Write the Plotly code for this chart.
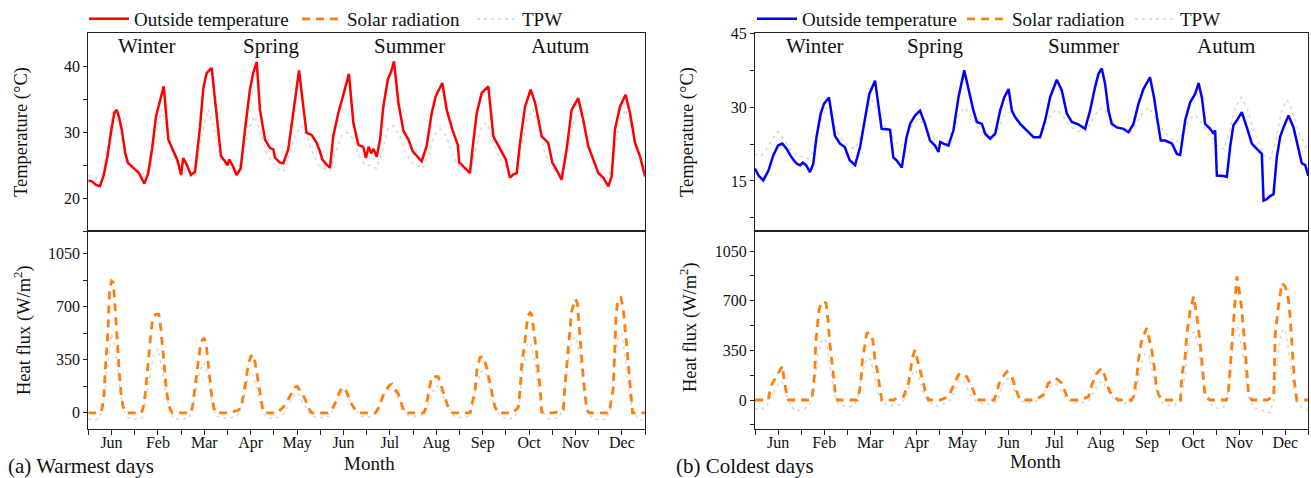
import plotly.graph_objects as go

# ---------------- data (hour of the 12 representative days, 24 h per month) -------------
month_labels = ["Jun", "Feb", "Mar", "Apr", "May", "Jun", "Jul", "Aug", "Sep", "Oct", "Nov", "Dec"]
season_labels = ["Winter", "Spring", "Summer", "Autum"]
season_hour_a = [30, 95, 166, 244]
season_hour_b = [31, 94, 171, 245]

# (a) Warmest days - outside temperature
a_temp_h = [0, 2, 4, 6, 8, 10, 12, 13.5, 14.7, 16, 17.3, 19, 20.4, 22.4,
            24, 26, 28, 29, 31, 33, 35, 37, 39, 41.4, 44, 46.3,
            48, 49.1, 50.9, 53.1, 55.2, 57.8, 59.5, 61.2, 63.8, 66.4, 68.6, 70.7,
            72.1, 72.9, 74.7, 76.7, 78.8, 81, 83.6, 85.3, 87.1, 88.8, 91.4, 94, 95.7,
            96.6, 99.1, 100.9, 103.4, 106, 109, 111.2, 112.9, 115.5, 118.1, 119.8,
            121, 123.3, 125, 126.7, 129.3, 131.9, 134.8, 137.1, 139.7, 142.2, 143.6,
            145, 146.3, 147.5, 149.2, 150.9, 152.6, 154.9, 156.6, 158.1, 160.4, 163, 165.6, 167.8,
            169.9, 172.4, 175, 177.6, 179.7, 181.4, 183.1, 185.4, 188.3, 191.1, 191.9,
            193.1, 195.7, 197.4, 198.7, 200.9, 203.5, 206.9, 209.5, 212.1, 214.7, 215.9,
            218.1, 219.9, 221.6, 223.3, 225.9, 228.8, 231.1, 234.5, 237.9, 240,
            242.2, 244.8, 247.4, 250, 253.4, 256, 258.6, 261.2, 263.8,
            266.4, 269, 270.7, 272.4, 275, 277.9, 280.2, 282.8, 285.3, 288]
a_temp = [22.7, 22.5, 22.0, 21.8, 23.5, 26.5, 30.5, 33.0, 33.4, 32.2, 30.4, 27.0, 25.4, 24.8,
          24.4, 23.9, 22.6, 22.2, 23.8, 27.5, 32.4, 34.7, 37.0, 28.9, 27.1, 25.6,
          23.5, 26.1, 25.1, 23.5, 24.0, 30.9, 36.7, 39.0, 39.8, 32.4, 26.4, 25.6,
          25.0, 25.9, 24.9, 23.5, 24.5, 30.3, 36.5, 39.0, 40.7, 33.4, 28.9, 27.6, 27.4,
          26.1, 25.4, 25.3, 27.4, 32.9, 39.4, 33.9, 29.9, 29.6, 28.4, 27.1,
          25.9, 25.1, 24.6, 29.4, 32.9, 35.7, 38.9, 31.4, 28.1, 27.8, 26.1,
          27.8, 26.8, 27.5, 26.3, 28.9, 33.9, 38.0, 39.2, 40.8, 34.5, 30.2, 28.9, 27.1,
          26.4, 25.6, 27.9, 32.9, 35.5, 36.5, 37.5, 33.4, 30.4, 28.1, 25.4,
          25.1, 24.3, 23.8, 27.4, 32.9, 36.0, 37.0, 29.4, 27.9, 26.4, 25.9,
          23.1, 23.6, 23.8, 28.4, 33.9, 36.5, 34.5, 29.4, 28.4, 25.4,
          24.3, 22.8, 27.4, 33.4, 35.2, 31.9, 27.9, 25.9, 23.8,
          23.1, 21.8, 23.3, 30.4, 33.9, 35.7, 32.9, 28.4, 26.4, 23.3]

# (a) TPW on the temperature panel
a_tpw_t_h = [0, 4, 7, 10, 13, 16, 19, 22,
             25, 29, 32, 35, 38, 41, 44, 47,
             50, 53, 56, 59, 62, 65, 68, 71,
             74, 77, 80, 83, 86, 89, 92, 95,
             98, 101, 104, 107, 110, 113, 116, 119,
             122, 125, 128, 131, 134, 137, 140, 143,
             146, 149, 152, 155, 158, 161, 164, 167,
             170, 173, 176, 179, 182, 185, 188, 191,
             194, 197, 200, 203, 206, 209, 212, 215,
             218, 221, 224, 227, 230, 233, 236, 239,
             242, 245, 248, 251, 254, 257, 260, 263,
             266, 269, 272, 275, 278, 281, 284, 288]
a_tpw_t = [23.5, 23.0, 23.5, 28.0, 34.0, 31.0, 26.5, 25.0,
           24.5, 23.5, 25.0, 30.0, 33.5, 30.0, 26.5, 24.5,
           24.5, 23.5, 25.0, 30.0, 33.5, 30.5, 26.5, 25.0,
           24.5, 24.0, 26.5, 30.5, 32.5, 30.0, 27.0, 25.5,
           24.5, 24.0, 26.5, 29.5, 31.0, 29.5, 27.0, 25.0,
           24.5, 24.2, 27.0, 29.5, 30.0, 29.0, 26.5, 25.0,
           25.0, 24.5, 27.0, 30.5, 31.0, 29.5, 27.0, 25.5,
           25.0, 24.5, 26.5, 29.5, 30.5, 29.5, 27.0, 25.0,
           24.5, 24.0, 27.0, 30.5, 31.5, 29.0, 26.5, 25.0,
           24.0, 23.5, 27.5, 32.0, 33.5, 30.5, 27.0, 25.0,
           24.0, 23.5, 27.0, 31.5, 33.5, 30.0, 27.0, 24.5,
           23.5, 23.0, 27.0, 32.0, 33.5, 30.5, 27.0, 24.5]

# (a) Solar radiation
a_solar_h = [0, 6, 7, 8, 9, 10, 11, 12, 13, 14, 15, 16, 17, 18, 19, 20,
             24, 27.5, 28.5, 29.5, 30.5, 31.5, 32.5, 33.5, 35, 36.5, 37.5, 38.5, 39.5, 40.5, 41.5, 42.5, 43.5,
             48, 53, 54, 55, 56, 57, 58, 59, 60, 61, 62, 63, 64, 65, 66,
             72, 74, 77, 79, 80, 81, 82, 83, 84, 85, 86, 87, 88, 89, 90, 91,
             96, 98, 99, 101, 103, 105, 107, 108, 109.5, 111, 112.5, 114, 115.5,
             120, 124, 126, 127.6, 129, 130.5, 131.9, 133.6, 135, 137, 139, 140,
             144, 148.5, 150, 151.5, 153, 154.5, 156, 157, 158, 159, 160.5, 161.5, 162.5, 163.5,
             168, 173.5, 174.5, 175.5, 176.5, 177.6, 181, 182.5, 184, 185.5, 187, 188.5,
             192, 197.5, 198.3, 200, 201, 202.6, 204.3, 206, 207.5, 208.7, 209.5, 210.4, 212,
             216, 219.5, 222.4, 223.3, 224.2, 225.9, 227.3, 228.5, 229.3, 230.2, 231.9, 232.8, 233.7, 234.5,
             240, 242, 245.7, 246.2, 247.4, 248.3, 249.1, 250, 252, 253, 253.4, 255.1, 256, 257.8, 259,
             264, 269.5, 269.9, 271.6, 272, 273, 274, 275.5, 276.5, 277, 278.6, 279.5, 280.9, 281.5, 288]
a_solar = [0, 0, 20, 100, 330, 500, 800, 870, 860, 690, 470, 270, 120, 40, 10, 0,
           0, 0, 40, 130, 270, 420, 540, 630, 650, 650, 560, 420, 270, 140, 60, 20, 0,
           0, 0, 50, 150, 280, 380, 450, 480, 495, 450, 330, 200, 90, 30, 0,
           0, 5, 15, 30, 90, 170, 260, 330, 370, 385, 350, 270, 180, 100, 40, 0,
           0, 0, 15, 40, 80, 130, 170, 175, 150, 120, 80, 30, 0,
           0, 0, 22, 60, 110, 150, 170, 140, 90, 40, 5, 0,
           0, 0, 30, 80, 130, 160, 185, 190, 175, 150, 120, 80, 30, 0,
           0, 0, 30, 90, 160, 238, 238, 170, 120, 60, 15, 0,
           0, 0, 48, 146, 280, 365, 370, 300, 210, 146, 90, 37, 0,
           0, 0, 37, 146, 321, 474, 638, 660, 650, 561, 397, 256, 168, 4,
           0, 4, 20, 124, 300, 450, 540, 670, 750, 720, 650, 343, 234, 20, 0,
           0, 0, 37, 168, 321, 649, 750, 760, 700, 649, 430, 277, 102, 0, 0]

# (a) TPW on the heat-flux panel
a_tpw_f_h = [0, 4, 6, 8, 10, 12, 14, 16, 18, 20, 22,
             25, 28, 30, 32, 34, 36, 38, 40, 42, 44, 46,
             49, 52, 54, 56, 58, 60, 62, 64, 66, 69,
             73, 77, 80, 82, 84, 86, 88, 90, 92, 95,
             98, 101, 104, 107, 109, 111, 113, 116, 119,
             122, 125, 128, 131, 133, 135, 138, 141, 143,
             146, 149, 152, 155, 157, 159, 162, 165, 167,
             170, 174, 177, 179, 181, 183, 186, 189, 191,
             194, 197, 199, 201, 203, 205, 207, 209, 211, 214,
             218, 221, 223, 225, 227, 229, 231, 233, 235, 238,
             241, 244, 246, 248, 250, 252, 254, 256, 258, 261, 263,
             265, 268, 270, 272, 274, 276, 278, 280, 282, 285, 288]
a_tpw_f = [-40, -45, -30, 60, 300, 520, 420, 180, 30, -30, -40,
           -40, -30, 100, 260, 400, 420, 300, 140, 20, -35, -40,
           -40, -35, 20, 170, 290, 330, 230, 80, -20, -35,
           -35, -20, 60, 200, 270, 230, 100, 10, -30, -35,
           -30, -10, 60, 130, 120, 70, 20, -25, -30,
           -30, -20, 70, 140, 140, 90, 20, -20, -25,
           -25, 0, 90, 150, 160, 130, 50, -15, -25,
           -25, -10, 100, 170, 180, 130, 40, -20, -30,
           -30, -20, 60, 190, 270, 280, 200, 80, 10, -30,
           -40, -20, 80, 300, 450, 460, 330, 140, 10, -40,
           -40, -20, 100, 330, 470, 500, 400, 170, 10, -40, -45,
           -45, -40, 20, 300, 500, 520, 330, 100, 0, -45, -45]

# (b) Coldest days - outside temperature
b_temp_h = [0, 2, 4.3, 7, 9.5, 12, 14.2, 16.5, 19, 21.7, 23.5,
            24.9, 26.6, 28.6, 30.3, 32, 34.2, 35.9, 38.5, 39.9, 41.6, 44.2, 46.7,
            49.3, 52.1, 54.7, 57.3, 59.5, 62.5, 64.2, 65.9, 68.6, 70.3,
            72, 73.7, 76.4, 78.9, 80.7, 83.3, 85.9, 88.5, 91.1, 93.7, 95.5,
            96.4, 98.1, 100.7, 103.3, 105.9, 108.9, 111.2, 113.7, 115.5, 118.1, 119.8,
            122.4, 125, 127.6, 129.7, 132, 133.7, 135.4, 138, 141.5, 145,
            148.4, 151, 153.6, 157.1, 159.7, 162.3, 164.9, 168.3,
            171.8, 174.4, 177, 178.8, 180.5, 182.2, 184, 185.7, 188.3, 191.8,
            194.4, 197, 199.6, 202.2, 205.6, 207.7, 209.5, 211.2, 213.5, 215.2,
            217, 219.6, 221.3, 223.9, 226.5, 229.1, 230.9, 232.6, 234.3, 236.9, 238.7, 239.5,
            240.4, 243.9, 245.6, 247.3, 249, 250.8, 253.4, 256, 258.6, 261.2, 263.8,
            264.7, 266.4, 268.1, 269.9, 271.6, 273.3, 275.1, 277.7, 280.3, 282.9, 284.6, 286.4, 288]
b_temp = [17.5, 16.0, 15.1, 17.1, 20.2, 22.2, 22.6, 21.5, 19.8, 18.5, 18.2,
          18.7, 18.2, 16.8, 18.4, 23.9, 28.7, 30.7, 32.0, 28.0, 24.2, 22.6, 21.9,
          19.2, 18.2, 21.9, 28.0, 32.7, 35.4, 30.0, 25.6, 25.5, 25.4,
          19.8, 19.2, 17.7, 23.9, 26.6, 28.3, 29.3, 26.6, 23.2, 22.2, 20.9,
          22.9, 22.6, 22.2, 25.3, 32.0, 37.5, 33.4, 29.3, 27.0, 26.6, 24.6,
          23.6, 24.6, 29.3, 32.0, 33.7, 29.3, 28.0, 26.6, 25.3, 23.9,
          23.9, 27.3, 32.0, 35.6, 33.4, 28.7, 27.0, 26.5,
          25.6, 29.3, 34.1, 36.8, 37.9, 34.8, 29.3, 26.6, 25.9, 25.6,
          24.9, 26.6, 30.7, 33.7, 36.1, 32.0, 27.3, 23.2, 23.2, 22.9,
          22.6, 20.5, 20.3, 27.3, 31.0, 32.7, 34.9, 32.0, 26.6, 25.6, 24.6, 25.3,
          16.1, 16.0, 15.8, 21.9, 26.3, 27.3, 29.0, 25.9, 22.6, 21.5, 20.5,
          11.0, 11.3, 11.9, 12.3, 19.8, 23.9, 25.9, 28.3, 25.9, 21.2, 18.6, 18.2, 16.0]

# (b) TPW on the temperature panel
b_tpw_t_h = [0, 3, 6, 9, 12, 15, 18, 21,
             24, 28, 31, 34, 37, 40, 43, 46,
             49, 52, 55, 58, 61, 64, 67, 70,
             73, 76, 79, 82, 85, 88, 91, 94,
             97, 100, 103, 106, 109, 112, 115, 118,
             121, 124, 127, 130, 133, 136, 139, 142,
             145, 148, 151, 154, 157, 160, 163, 166,
             169, 172, 175, 178, 181, 184, 187, 190,
             193, 196, 199, 202, 205, 208, 211, 214,
             217, 220, 223, 226, 229, 232, 235, 238,
             241, 244, 247, 250, 253, 256, 259, 262,
             265, 268, 271, 274, 277, 280, 283, 288]
b_tpw_t = [20.5, 20.0, 21.5, 23.5, 25.0, 23.5, 21.5, 20.5,
           20.0, 19.5, 22.0, 27.0, 30.0, 28.0, 25.0, 23.0,
           22.0, 21.5, 24.0, 29.0, 31.5, 29.0, 26.5, 25.0,
           23.0, 22.0, 24.0, 26.5, 27.5, 26.5, 24.5, 23.5,
           23.0, 23.0, 25.0, 28.5, 30.0, 28.5, 26.5, 25.0,
           24.0, 24.0, 26.0, 28.5, 29.0, 28.0, 26.5, 25.0,
           24.0, 24.0, 26.5, 28.5, 29.5, 28.5, 26.5, 25.5,
           25.0, 25.0, 27.0, 29.0, 30.0, 28.5, 26.5, 25.5,
           25.0, 25.0, 27.0, 29.0, 30.0, 28.0, 26.0, 24.5,
           23.5, 23.0, 25.0, 27.5, 28.5, 27.0, 25.0, 24.0,
           22.0, 21.5, 25.0, 30.0, 32.0, 30.0, 26.0, 23.0,
           20.0, 19.5, 23.0, 29.0, 31.5, 29.0, 25.0, 21.0]

# (b) Solar radiation
b_solar_h = [0, 6.9, 8.2, 10.9, 12.5, 14.4, 15.1, 16.8, 17.4,
             24, 29.5, 30.4, 31.25, 31.6, 32.6, 33.3, 34.4, 35.6, 37, 38.2, 38.7, 39.9, 40.3, 41.1, 41.7, 42.9,
             48, 53.3, 53.8, 55, 55.9, 57.3, 58.2, 59.5, 61.3, 62.5, 63.9, 65.1, 66,
             72, 73.8, 77.3, 79.9, 80.7, 82.1, 83.3, 85.1, 86.8, 88.5, 90.3,
             96.4, 100.7, 103.3, 105.9, 106.8, 110.2, 112.8, 115.5,
             120, 124.5, 125.9, 126.5, 127.6, 131.1, 133.7, 135.4, 137.2, 138.5,
             144, 145.8, 150.1, 152.7, 156.2, 157.5, 159.7, 162.3, 163,
             168, 169.2, 173.6, 175.3, 177.9, 180.5, 182.2, 184, 185.7, 189.2,
             192, 196, 197, 198.7, 199.6, 201.3, 203.9, 206.5, 207.8, 208.8, 210, 211.7,
             216, 221.5, 222.1, 223.9, 224.8, 226.5, 228.3, 230, 231.7, 233.1, 234.3, 236.9,
             240, 245.4, 246.5, 247, 248.2, 249.1, 250, 250.8, 252.2, 253.4, 254.3, 256, 256.9, 258.6,
             264, 266.5, 270, 270.8, 272.5, 274.2, 276, 277.7, 278.5, 279.1, 280.3, 280.8, 282, 288]
b_solar = [0, 0, 95, 165, 200, 240, 141, 24, 0,
           0, 0, 95, 236, 400, 520, 636, 683, 696, 683, 540, 430, 310, 236, 140, 60, 0,
           0, 0, 24, 118, 283, 401, 472, 476, 424, 283, 189, 71, 0,
           0, 12, 24, 118, 189, 307, 353, 260, 165, 71, 0,
           0, 24, 95, 177, 189, 165, 95, 0,
           0, 0, 60, 95, 141, 200, 165, 95, 24, 0,
           0, 0, 35, 118, 153, 145, 118, 12, 0,
           0, 0, 24, 106, 189, 224, 165, 83, 35, 0,
           0, 0, 24, 165, 283, 424, 507, 353, 236, 110, 40, 0,
           0, 0, 165, 307, 472, 625, 731, 590, 401, 189, 24, 0,
           0, 0, 71, 165, 401, 590, 778, 872, 754, 636, 495, 236, 47, 0,
           0, 0, 24, 472, 660, 825, 801, 707, 590, 472, 283, 130, 0, 0]

# (b) TPW on the heat-flux panel
b_tpw_f_h = [0, 3, 6, 9, 12, 14, 16, 18, 21, 23,
             26, 29, 31, 33, 35, 37, 39, 41, 43, 46,
             49, 52, 54, 56, 58, 60, 62, 64, 66, 70,
             73, 76, 79, 81, 83, 85, 87, 89, 92, 95,
             98, 101, 104, 106, 108, 110, 112, 115, 119,
             122, 126, 128, 130, 132, 134, 136, 139, 143,
             146, 149, 152, 155, 157, 159, 162, 165, 167,
             170, 174, 177, 179, 181, 183, 186, 189, 191,
             194, 197, 199, 201, 203, 205, 207, 209, 212, 215,
             218, 221, 223, 225, 227, 229, 231, 233, 235, 238,
             241, 244, 246, 248, 250, 251, 253, 255, 257, 260, 263,
             265, 268, 270, 272, 274, 276, 278, 280, 282, 285, 288]
b_tpw_f = [-60, -70, -40, 40, 110, 130, 60, -20, -80, -70,
           -60, -20, 100, 330, 430, 420, 250, 70, -20, -40,
           -50, -30, 40, 200, 290, 290, 180, 50, -20, -40,
           -40, -30, 30, 150, 210, 180, 80, 10, -30, -40,
           -30, -10, 60, 130, 140, 100, 40, -10, -30,
           -30, -10, 60, 140, 150, 100, 40, -10, -20,
           -10, 20, 80, 110, 110, 70, 10, -20, -20,
           -20, 0, 70, 120, 130, 80, 20, -10, -20,
           -20, 0, 100, 250, 330, 320, 200, 60, -20, -40,
           -40, -10, 100, 330, 470, 480, 350, 150, 20, -40,
           -60, -50, 50, 300, 480, 520, 400, 200, 20, -60, -60,
           -80, -90, 0, 300, 480, 500, 330, 100, -20, -60, -70]

# ---------------- figure -------------------------------------------------------------------
W, H = 1311, 478
FONT = "Liberation Serif"
INK = "#111111"
AX = "#222222"
RED, BLUE, ORANGE, GREY = "#ff0000", "#0000ff", "#ff7f0e", "#d9d9d9"

XA = [88.3 / W, 645.1 / W]
XB = [755.0 / W, 1308.3 / W]
YT = [1 - 231.0 / H, 1 - 33.3 / H]
YB = [1 - 428.5 / H, 1 - 231.0 / H]

fig = go.Figure()


def add_panel(sfx_t, sfx_b, temp_h, temp, col, tpw_t_h, tpw_t, sol_h, sol, tpw_f_h, tpw_f, legs):
    xt, yt = "x" + sfx_t, "y" + sfx_t
    xb, yb = "x" + sfx_b, "y" + sfx_b
    tpw_line = dict(color=GREY, width=1.6, dash="3px,4px")
    fig.add_trace(go.Scatter(x=tpw_t_h, y=tpw_t, xaxis=xt, yaxis=yt, mode="lines", name="TPW",
                             line=tpw_line, legend=legs[2]))
    fig.add_trace(go.Scatter(x=temp_h, y=temp, xaxis=xt, yaxis=yt, mode="lines",
                             name="Outside temperature", line=dict(color=col, width=2.5),
                             legend=legs[0]))
    fig.add_trace(go.Scatter(x=tpw_f_h, y=tpw_f, xaxis=xb, yaxis=yb, mode="lines", name="TPW",
                             line=tpw_line, showlegend=False))
    fig.add_trace(go.Scatter(x=sol_h, y=sol, xaxis=xb, yaxis=yb, mode="lines",
                             name="Solar radiation", line=dict(color=ORANGE, width=2.8, dash="8px,6px"),
                             legend=legs[1]))


add_panel("", "2", a_temp_h, a_temp, RED, a_tpw_t_h, a_tpw_t, a_solar_h, a_solar,
          a_tpw_f_h, a_tpw_f, ["legend", "legend2", "legend3"])
add_panel("3", "4", b_temp_h, b_temp, BLUE, b_tpw_t_h, b_tpw_t, b_solar_h, b_solar,
          b_tpw_f_h, b_tpw_f, ["legend4", "legend5", "legend6"])

tickfont = dict(family=FONT, size=16, color=INK)
month_ticks = [12 * i for i in range(25)]
month_text = [month_labels[i // 2] if i % 2 == 1 else "" for i in range(25)]

top_x = dict(range=[0, 288], showticklabels=False, ticks="", showline=True, linecolor=AX,
             linewidth=1, mirror=True, showgrid=False, zeroline=False)
bot_x = dict(range=[0, 288], tickvals=month_ticks, ticktext=month_text, ticks="outside",
             ticklen=5, tickcolor=AX, tickfont=tickfont, showline=True, linecolor=AX,
             linewidth=1, mirror=True, showgrid=False, zeroline=False, ticklabelstandoff=-6)
yax = dict(ticks="outside", ticklen=4, tickcolor=AX, tickfont=tickfont, showline=True,
           linecolor=AX, linewidth=1, mirror=True, showgrid=False, zeroline=False)

legfont = dict(family=FONT, size=19, color=INK)


def leg(px):
    return dict(x=px / W, y=1, xanchor="left", yanchor="top", orientation="h",
                font=legfont, bgcolor="rgba(0,0,0,0)", itemwidth=40)


fig.update_layout(
    width=W, height=H,
    margin=dict(l=0, r=0, t=0, b=0, autoexpand=False),
    paper_bgcolor="white", plot_bgcolor="white",
    xaxis=dict(domain=XA, anchor="y", **top_x),
    yaxis=dict(domain=YT, anchor="x", range=[15, 45.05], tickvals=[15, 20, 25, 30, 35, 40],
               ticktext=["", "20", "", "30", "", "40"], **yax),
    xaxis2=dict(domain=XA, anchor="y2", **bot_x),
    yaxis2=dict(domain=YB, anchor="x2", range=[-103, 1199],
                tickvals=[0, 175, 350, 525, 700, 875, 1050],
                ticktext=["0", "", "350", "", "700", "", "1050"], **yax),
    xaxis3=dict(domain=XB, anchor="y3", **top_x),
    yaxis3=dict(domain=YT, anchor="x3", range=[4.8, 45.05], tickvals=[7.5, 15, 22.5, 30, 37.5, 45],
                ticktext=["", "15", "", "30", "", "45"], **yax),
    xaxis4=dict(domain=XB, anchor="y4", **bot_x),
    yaxis4=dict(domain=YB, anchor="x4", range=[-201, 1192],
                tickvals=[-175, 0, 175, 350, 525, 700, 875, 1050],
                ticktext=["", "0", "", "350", "", "700", "", "1050"], **yax),
    legend=leg(84), legend2=leg(297), legend3=leg(472),
    legend4=leg(752), legend5=leg(962), legend6=leg(1130),
    showlegend=True,
)

ann = []
for lab, h in zip(season_labels, season_hour_a):
    ann.append(dict(x=h, y=1 - 46 / H, xref="x", yref="paper", text=lab, showarrow=False,
                    font=dict(family=FONT, size=21, color=INK), xanchor="center", yanchor="middle"))
for lab, h in zip(season_labels, season_hour_b):
    ann.append(dict(x=h, y=1 - 46 / H, xref="x3", yref="paper", text=lab, showarrow=False,
                    font=dict(family=FONT, size=21, color=INK), xanchor="center", yanchor="middle"))

title_font = dict(family=FONT, size=18.5, color=INK)
for px, py, txt in [(22, 132, "Temperature (°C)"), (22, 330, "Heat flux (W/m<sup>2</sup>)"),
                    (688, 132, "Temperature (°C)"), (688, 327, "Heat flux (W/m<sup>2</sup>)")]:
    ann.append(dict(x=px / W, y=1 - py / H, xref="paper", yref="paper", text=txt, showarrow=False,
                    textangle=-90, font=title_font, xanchor="center", yanchor="middle"))
for px, py, txt in [(369, 463, "Month"), (1035, 461, "Month")]:
    ann.append(dict(x=px / W, y=1 - py / H, xref="paper", yref="paper", text=txt, showarrow=False,
                    font=dict(family=FONT, size=19, color=INK), xanchor="center", yanchor="middle"))
for px, py, txt in [(6, 466, "(a) Warmest days"), (674, 466, "(b) Coldest days")]:
    ann.append(dict(x=px / W, y=1 - py / H, xref="paper", yref="paper", text=txt, showarrow=False,
                    font=dict(family=FONT, size=21, color=INK), xanchor="left", yanchor="middle"))
fig.update_layout(annotations=ann)

fig.write_html("out.html", config={"displayModeBar": False},
               post_script="document.body.style.margin='0px';document.body.style.overflow='hidden';")
